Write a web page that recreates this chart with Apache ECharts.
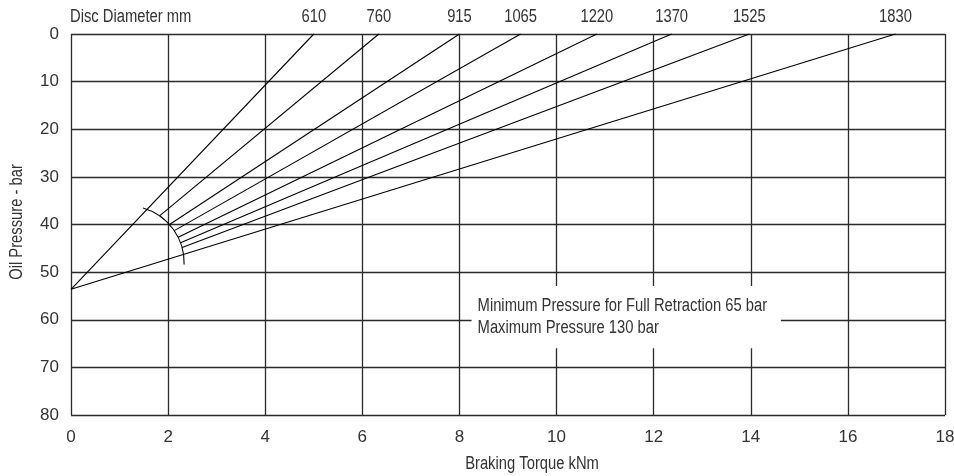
<!DOCTYPE html>
<html>
<head>
<meta charset="utf-8">
<script src="https://cdn.jsdelivr.net/npm/echarts@6/dist/echarts.min.js"></script>
<style>
  html, body { margin: 0; padding: 0; background: #fff; }
  #chart { width: 954px; height: 476px; }
</style>
</head>
<body>
<div id="chart"></div>
<script>
// ---- Data ----
const discDiameters = ['610', '760', '915', '1065', '1220', '1370', '1525', '1830'];
// Braking torque (kNm) where each disc line reaches 0 bar
const torqueAtZeroPressure = [5.0, 6.34, 8.0, 9.26, 10.83, 12.37, 13.97, 16.98];
// Oil pressure (bar) where all lines meet at zero torque
const pressureAtZeroTorque = 53.6;
// Lines drawn from the common origin (true) or starting on the arc (false)
const fromOrigin = [true, false, false, false, false, false, false, true];
const noteLines = ['Minimum Pressure for Full Retraction 65 bar', 'Maximum Pressure 130 bar'];
const xAxisTitle = 'Braking Torque kNm';
const yAxisTitle = 'Oil Pressure - bar';
const discTitle = 'Disc Diameter mm';

// ---- Styling / geometry helpers ----
const FONT_FAMILY = '"Liberation Sans", Arial, sans-serif';
const NARROW = 0.82;              // horizontal squeeze to mimic a condensed face
const TEXT_FONT = '18px ' + FONT_FAMILY;
const TEXT_COLOR = '#333';
const arcCenter = [1.16, 48.0];   // arc centre in data units
const arcRadiusX = 1.17;          // arc radius expressed along the torque axis
const arcStartDeg = -74, arcEndDeg = 2;
const noteBox = { x0: 8.25, y0: 52.9, x1: 14.62, y1: 66.0 };

const fanData = discDiameters.map((d, i) => [torqueAtZeroPressure[i], pressureAtZeroTorque, i]);

function renderFan(params, api) {
  const xt = api.value(0), y0 = api.value(1), idx = api.value(2);
  const p0 = api.coord([0, y0]);
  const p1 = api.coord([xt, 0]);
  let s = p0;
  if (!fromOrigin[idx]) {
    const c = api.coord(arcCenter);
    const r = api.size([arcRadiusX, 0])[0];
    const dx = p1[0] - p0[0], dy = p1[1] - p0[1];
    const fx = p0[0] - c[0], fy = p0[1] - c[1];
    const a = dx * dx + dy * dy, b = 2 * (fx * dx + fy * dy), cc = fx * fx + fy * fy - r * r;
    const disc = b * b - 4 * a * cc;
    if (disc >= 0) {
      const t = (-b + Math.sqrt(disc)) / (2 * a);
      if (t > 0 && t < 1) s = [p0[0] + t * dx, p0[1] + t * dy];
    }
  }
  return {
    type: 'group',
    children: [
      { type: 'line', shape: { x1: s[0], y1: s[1], x2: p1[0], y2: p1[1] },
        style: { stroke: '#000', lineWidth: 1.1 } },
      { type: 'text', x: p1[0], y: p1[1] - 17, scaleX: NARROW,
        style: { text: discDiameters[idx], textAlign: 'center', textVerticalAlign: 'middle',
                 font: TEXT_FONT, fill: TEXT_COLOR } }
    ]
  };
}

function renderArc(params, api) {
  const c = api.coord([api.value(0), api.value(1)]);
  const r = api.size([arcRadiusX, 0])[0];
  return {
    type: 'arc',
    shape: { cx: c[0], cy: c[1], r: r, startAngle: arcStartDeg * Math.PI / 180,
             endAngle: arcEndDeg * Math.PI / 180, clockwise: true },
    style: { stroke: '#000', fill: null, lineWidth: 1.1 }
  };
}

function renderNote(params, api) {
  const a = api.coord([noteBox.x0, noteBox.y0]);
  const b = api.coord([noteBox.x1, noteBox.y1]);
  return {
    type: 'group',
    children: [
      { type: 'rect', shape: { x: a[0], y: a[1], width: b[0] - a[0], height: b[1] - a[1] },
        style: { fill: '#fff' } },
      { type: 'text', x: a[0] + 6, y: (a[1] + b[1]) / 2, scaleX: NARROW,
        style: { text: noteLines.join('\n'), textAlign: 'left', textVerticalAlign: 'middle',
                 lineHeight: 22, font: TEXT_FONT, fill: TEXT_COLOR } }
    ]
  };
}

const chart = echarts.init(document.getElementById('chart'), null, { renderer: 'canvas' });
chart.setOption({
  animation: false,
  backgroundColor: '#fff',
  textStyle: { fontFamily: FONT_FAMILY },
  grid: { left: 71, right: 9, top: 34, bottom: 61, containLabel: false, outerBoundsMode: 'none' },
  graphic: [
    { type: 'text', x: 70, y: 17, scaleX: NARROW,
      style: { text: discTitle, font: TEXT_FONT, fill: TEXT_COLOR,
               textAlign: 'left', textVerticalAlign: 'middle' } },
    { type: 'text', x: 532, y: 464, scaleX: NARROW,
      style: { text: xAxisTitle, font: TEXT_FONT, fill: TEXT_COLOR,
               textAlign: 'center', textVerticalAlign: 'middle' } },
    { type: 'text', x: 17, y: 222, rotation: Math.PI / 2, scaleX: NARROW,
      style: { text: yAxisTitle, font: TEXT_FONT, fill: TEXT_COLOR,
               textAlign: 'center', textVerticalAlign: 'middle' } }
  ],
  xAxis: {
    type: 'value', min: 0, max: 18, interval: 2,
    axisLine: { show: false },
    axisTick: { show: false },
    axisLabel: { margin: 14, fontSize: 17, color: TEXT_COLOR, fontFamily: FONT_FAMILY },
    splitLine: { show: true, showMinLine: true, showMaxLine: true,
                 lineStyle: { color: '#2a2a2a', width: 1.3 } }
  },
  yAxis: {
    type: 'value', min: 0, max: 80, interval: 10, inverse: true,
    axisLine: { show: false },
    axisTick: { show: false },
    axisLabel: { margin: 12, fontSize: 17, color: TEXT_COLOR, fontFamily: FONT_FAMILY },
    splitLine: { show: true, showMinLine: true, showMaxLine: true,
                 lineStyle: { color: '#2a2a2a', width: 1.3 } }
  },
  series: [
    { type: 'custom', name: 'discs', renderItem: renderFan, data: fanData, clip: false, z: 3 },
    { type: 'custom', name: 'arc', renderItem: renderArc, data: [arcCenter], clip: false, z: 3 },
    { type: 'custom', name: 'note', renderItem: renderNote, data: [[noteBox.x0, noteBox.y0]], clip: false, z: 2 }
  ]
});
</script>
</body>
</html>
